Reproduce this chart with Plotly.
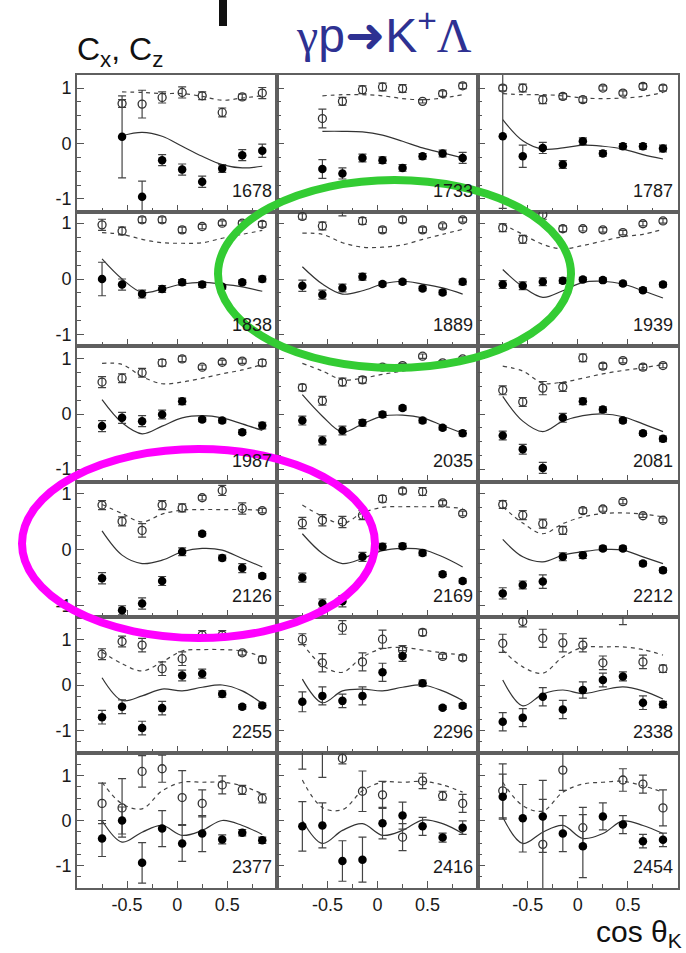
import plotly.graph_objects as go

# ---------------- data ----------------
ENERGIES = [1678, 1733, 1787, 1838, 1889, 1939, 1987, 2035, 2081,
            2126, 2169, 2212, 2255, 2296, 2338, 2377, 2416, 2454]
COS_BINS = [-0.75, -0.55, -0.35, -0.15, 0.05, 0.25, 0.45, 0.65, 0.85]
X_TICK_LABELS = ["-0.5", "0", "0.5"]
Y_TICK_LABELS = ["-1", "0", "1"]

N = None
# C_x (filled circles)
CX = [
    [N, 0.12, -0.96, -0.30, -0.47, -0.69, -0.45, -0.21, -0.13],
    [N, -0.46, -0.54, -0.26, -0.30, -0.44, -0.23, -0.18, -0.26],
    [0.13, -0.23, -0.08, -0.38, 0.04, -0.18, -0.05, -0.05, -0.09],
    [0.00, -0.10, -0.27, -0.18, -0.06, -0.10, -0.14, -0.06, 0.00],
    [-0.12, -0.28, -0.16, 0.04, -0.09, -0.05, -0.17, -0.24, -0.05],
    [-0.10, -0.12, -0.05, -0.03, -0.01, -0.02, -0.08, -0.20, -0.10],
    [-0.22, -0.07, -0.13, -0.01, 0.23, -0.10, -0.12, -0.33, -0.21],
    [-0.12, -0.48, -0.30, -0.16, -0.01, 0.11, -0.12, -0.25, -0.35],
    [-0.39, -0.64, -0.98, -0.07, 0.23, 0.08, -0.12, -0.35, -0.45],
    [-0.51, -1.08, -0.96, -0.56, -0.04, 0.28, -0.15, -0.33, -0.47],
    [-0.50, -0.96, -0.92, -0.13, 0.05, 0.06, -0.06, -0.44, -0.56],
    [-0.78, -0.63, -0.57, -0.13, -0.10, 0.02, 0.02, -0.25, -0.37],
    [-0.71, -0.48, -0.95, -0.51, 0.21, 0.25, -0.20, -0.48, -0.45],
    [-0.37, -0.24, -0.35, -0.24, 0.28, 0.64, 0.04, -0.50, -0.46],
    [-0.81, -0.72, -0.26, -0.54, -0.11, 0.11, 0.19, -0.39, -0.43],
    [-0.40, 0.00, -0.94, -0.18, -0.51, -0.29, -0.42, -0.27, -0.44],
    [-0.13, -0.11, -0.90, -0.87, -0.06, 0.11, -0.13, -0.38, -0.16],
    [0.53, 0.05, 0.09, -0.29, -0.57, 0.09, -0.09, -0.46, -0.43],
]
CX_ERR = [
    [N, 0.74, 0.28, 0.10, 0.10, 0.10, 0.07, 0.10, 0.12],
    [N, 0.17, 0.10, 0.07, 0.06, 0.06, 0.05, 0.06, 0.10],
    [1.30, 0.20, 0.10, 0.07, 0.06, 0.05, 0.05, 0.05, 0.06],
    [0.30, 0.10, 0.07, 0.06, 0.05, 0.05, 0.04, 0.04, 0.05],
    [0.10, 0.08, 0.07, 0.06, 0.04, 0.04, 0.04, 0.04, 0.05],
    [0.07, 0.07, 0.07, 0.05, 0.04, 0.04, 0.04, 0.04, 0.04],
    [0.10, 0.10, 0.10, 0.08, 0.06, 0.04, 0.04, 0.04, 0.06],
    [0.08, 0.08, 0.08, 0.06, 0.05, 0.04, 0.04, 0.04, 0.05],
    [0.08, 0.09, 0.10, 0.08, 0.06, 0.05, 0.04, 0.04, 0.05],
    [0.10, 0.08, 0.10, 0.08, 0.07, 0.04, 0.05, 0.08, 0.04],
    [0.08, 0.08, 0.10, 0.08, 0.06, 0.05, 0.05, 0.04, 0.04],
    [0.10, 0.07, 0.12, 0.07, 0.06, 0.04, 0.04, 0.04, 0.04],
    [0.15, 0.15, 0.15, 0.15, 0.12, 0.10, 0.07, 0.05, 0.05],
    [0.22, 0.20, 0.15, 0.20, 0.20, 0.12, 0.07, 0.04, 0.05],
    [0.20, 0.20, 0.20, 0.20, 0.18, 0.15, 0.10, 0.15, 0.07],
    [0.40, 0.30, 0.45, 0.40, 0.40, 0.40, 0.10, 0.07, 0.07],
    [0.55, 0.50, 0.45, 0.50, 0.35, 0.30, 0.20, 0.10, 0.15],
    [0.50, 0.75, 0.80, 0.40, 0.70, 0.30, 0.20, 0.15, 0.15],
]
# C_z (open circles)
CZ = [
    [N, 0.72, 0.71, 0.83, 0.92, 0.86, 0.56, 0.84, 0.91],
    [N, 0.45, 0.76, 0.97, 1.02, 0.99, 0.76, 0.90, 1.04],
    [1.00, 1.00, 0.79, 0.85, 0.79, 1.00, 0.91, 1.03, 1.00],
    [0.97, 0.86, 1.06, 1.06, 0.88, 0.94, 1.00, 1.00, 0.98],
    [1.12, 0.95, 1.28, 1.04, 0.88, 1.06, 0.88, 0.95, 1.06],
    [0.92, 0.71, 1.15, 0.90, 0.90, 0.88, 0.83, 0.99, 1.04],
    [0.58, 0.65, 0.75, 0.93, 1.00, 0.85, 0.94, 0.96, 0.93],
    [0.48, 0.24, 0.58, 0.62, 0.85, 0.88, 1.05, 0.93, 1.00],
    [0.43, 0.22, 0.47, 0.49, 1.02, 0.87, 0.97, 0.85, 0.88],
    [0.79, 0.50, 0.34, 0.79, 0.74, 0.92, 1.05, 0.73, 0.69],
    [0.47, 0.52, 0.49, 0.61, 0.90, 1.04, 1.03, 0.83, 0.64],
    [0.80, 0.61, 0.46, 0.34, 0.69, 0.72, 0.85, 0.60, 0.52],
    [0.68, 0.96, 0.88, 0.36, 0.58, 1.10, 1.10, 0.71, 0.56],
    [1.01, 0.49, 1.27, 0.51, 1.01, 0.77, 1.16, 0.63, 0.60],
    [0.92, 1.40, 1.03, 0.93, 0.88, 0.49, 1.70, 0.51, 0.36],
    [0.38, 0.28, 1.09, 1.15, 0.51, 0.38, 0.79, 0.68, 0.49],
    [1.60, 1.60, 1.38, 0.65, 0.57, -0.37, 0.88, 0.55, 0.38],
    [0.66, N, -0.53, 1.12, -0.16, N, 0.90, 0.81, 0.28],
]
CZ_ERR = [
    [N, 0.07, 0.25, 0.10, 0.10, 0.07, 0.08, 0.05, 0.10],
    [N, 0.17, 0.07, 0.07, 0.07, 0.07, 0.03, 0.05, 0.05],
    [0.05, 0.07, 0.07, 0.05, 0.05, 0.04, 0.04, 0.05, 0.05],
    [0.10, 0.07, 0.05, 0.05, 0.05, 0.04, 0.04, 0.04, 0.05],
    [0.05, 0.07, 0.15, 0.06, 0.05, 0.05, 0.05, 0.04, 0.04],
    [0.07, 0.07, 0.08, 0.05, 0.04, 0.04, 0.04, 0.04, 0.04],
    [0.10, 0.08, 0.08, 0.06, 0.05, 0.04, 0.04, 0.04, 0.06],
    [0.06, 0.08, 0.07, 0.06, 0.05, 0.04, 0.04, 0.04, 0.04],
    [0.08, 0.08, 0.12, 0.08, 0.07, 0.05, 0.04, 0.05, 0.04],
    [0.08, 0.08, 0.12, 0.08, 0.07, 0.04, 0.09, 0.10, 0.04],
    [0.10, 0.10, 0.10, 0.08, 0.06, 0.05, 0.07, 0.04, 0.04],
    [0.07, 0.08, 0.08, 0.07, 0.05, 0.04, 0.04, 0.03, 0.04],
    [0.12, 0.12, 0.15, 0.15, 0.15, 0.10, 0.10, 0.05, 0.07],
    [0.12, 0.20, 0.15, 0.20, 0.20, 0.10, 0.07, 0.05, 0.06],
    [0.20, 0.12, 0.20, 0.20, 0.15, 0.15, 0.37, 0.15, 0.08],
    [0.45, 0.65, 0.35, 0.30, 0.60, 0.30, 0.20, 0.10, 0.10],
    [0.46, 0.64, 0.12, 0.45, 0.30, 0.30, 0.17, 0.10, 0.20],
    [0.60, N, 1.00, 0.45, 0.45, N, 0.25, 0.20, 0.40],
]
# model curves: solid (C_x) and dashed (C_z)
MODEL_CX = [
    [N, 0.14, 0.20, 0.13, -0.05, -0.23, -0.38, -0.44, -0.41],
    [N, 0.22, 0.22, 0.21, 0.15, 0.04, -0.08, -0.17, -0.26],
    [0.43, 0.05, -0.10, -0.08, -0.03, -0.05, -0.10, -0.20, -0.28],
    [0.36, 0.00, -0.24, -0.18, -0.09, -0.06, -0.09, -0.14, -0.22],
    [0.22, -0.09, -0.27, -0.21, -0.09, -0.04, -0.09, -0.16, -0.27],
    [0.17, -0.14, -0.33, -0.21, -0.06, -0.04, -0.09, -0.21, -0.34],
    [0.26, -0.16, -0.36, -0.22, -0.07, -0.03, -0.07, -0.18, -0.30],
    [0.35, -0.04, -0.33, -0.18, -0.04, -0.02, -0.07, -0.21, -0.35],
    [0.32, -0.13, -0.32, -0.13, -0.03, 0.00, -0.05, -0.18, -0.32],
    [0.33, -0.10, -0.25, -0.19, -0.04, 0.02, -0.01, -0.16, -0.31],
    [0.28, -0.07, -0.25, -0.16, -0.02, 0.02, 0.00, -0.13, -0.31],
    [0.18, -0.13, -0.22, -0.10, -0.04, 0.00, -0.01, -0.13, -0.25],
    [0.16, -0.34, -0.24, -0.09, -0.13, -0.05, 0.00, -0.13, -0.41],
    [0.13, -0.39, -0.13, -0.09, -0.13, -0.05, 0.00, -0.13, -0.34],
    [0.11, -0.46, -0.20, -0.11, -0.19, -0.11, -0.04, -0.13, -0.31],
    [0.00, -0.48, -0.26, -0.11, -0.33, -0.22, 0.00, -0.11, -0.31],
    [0.00, -0.51, -0.22, -0.07, -0.33, -0.22, 0.01, -0.07, -0.29],
    [0.07, -0.51, -0.26, -0.11, -0.40, -0.29, -0.01, -0.11, -0.29],
]
MODEL_CZ = [
    [N, 0.93, 0.92, 0.90, 0.90, 0.85, 0.78, 0.82, 0.86],
    [N, 0.86, 0.88, 0.88, 0.86, 0.81, 0.79, 0.82, 0.88],
    [0.90, 0.88, 0.88, 0.86, 0.82, 0.81, 0.82, 0.85, 0.92],
    [0.83, 0.80, 0.71, 0.65, 0.64, 0.65, 0.73, 0.80, 0.87],
    [0.82, 0.80, 0.65, 0.57, 0.57, 0.61, 0.71, 0.80, 0.89],
    [0.98, 0.80, 0.62, 0.54, 0.60, 0.68, 0.76, 0.80, 0.89],
    [0.92, 0.90, 0.68, 0.55, 0.58, 0.65, 0.73, 0.80, 0.90],
    [0.92, 0.78, 0.62, 0.65, 0.72, 0.78, 0.84, 0.90, 0.96],
    [0.87, 0.78, 0.56, 0.58, 0.65, 0.73, 0.79, 0.84, 0.90],
    [0.80, 0.64, 0.49, 0.63, 0.70, 0.71, 0.71, 0.71, 0.70],
    [0.79, 0.59, 0.46, 0.65, 0.75, 0.76, 0.76, 0.76, 0.73],
    [0.76, 0.47, 0.28, 0.46, 0.58, 0.64, 0.65, 0.63, 0.58],
    [0.73, 0.47, 0.31, 0.51, 0.75, 0.78, 0.78, 0.75, 0.62],
    [0.92, 0.43, 0.28, 0.62, 0.80, 0.83, 0.77, 0.71, 0.66],
    [0.77, 0.40, 0.26, 0.62, 0.83, 0.84, 0.84, 0.78, 0.66],
    [0.85, 0.37, 0.26, 0.66, 0.85, 0.85, 0.85, 0.77, 0.59],
    [0.90, 0.29, 0.24, 0.66, 0.85, 0.85, 0.87, 0.79, 0.63],
    [0.85, 0.33, 0.21, 0.63, 0.81, 0.85, 0.87, 0.77, 0.63],
]

# ---------------- layout geometry (pixels) ----------------
W, H = 686, 953
COL_EDGES = [77, 277.3, 477.7, 678]
ROW_EDGES = [75, 212, 346, 482, 617, 753, 888]
ROW_YMAX = [1.235, 1.2, 1.235, 1.2, 1.5, 1.5]

FONT = "Liberation Sans, Arial, Helvetica, sans-serif"
INK = "#1a1a1a"
FRAME = "#5f5f5f"


def px(x):
    return x / W


def py(y):
    return 1 - y / H


fig = go.Figure()
annotations = []
layout_axes = {}

for i, e in enumerate(ENERGIES):
    r, c = divmod(i, 3)
    n = i + 1
    xa = "x" if n == 1 else f"x{n}"
    ya = "y" if n == 1 else f"y{n}"
    xkey = "xaxis" if n == 1 else f"xaxis{n}"
    ykey = "yaxis" if n == 1 else f"yaxis{n}"

    # curves
    fig.add_trace(go.Scatter(
        x=COS_BINS, y=MODEL_CZ[i], mode="lines", xaxis=xa, yaxis=ya,
        line=dict(color="#444444", width=1.2, dash="4px,4px", shape="spline"),
        connectgaps=False, showlegend=False, hoverinfo="skip"))
    fig.add_trace(go.Scatter(
        x=COS_BINS, y=MODEL_CX[i], mode="lines", xaxis=xa, yaxis=ya,
        line=dict(color="#333333", width=1.2, shape="spline"),
        connectgaps=False, showlegend=False, hoverinfo="skip"))
    # open circles (C_z)
    fig.add_trace(go.Scatter(
        x=COS_BINS, y=CZ[i], mode="markers", xaxis=xa, yaxis=ya,
        marker=dict(symbol="circle-open", size=8, color="#333333",
                    line=dict(width=1.3, color="#333333")),
        error_y=dict(type="data", array=CZ_ERR[i], visible=True,
                     color="#444444", thickness=1.2, width=4),
        showlegend=False))
    # filled circles (C_x)
    fig.add_trace(go.Scatter(
        x=COS_BINS, y=CX[i], mode="markers", xaxis=xa, yaxis=ya,
        marker=dict(symbol="circle", size=8.5, color="#000000"),
        error_y=dict(type="data", array=CX_ERR[i], visible=True,
                     color="#444444", thickness=1.2, width=4),
        showlegend=False))

    ymax = ROW_YMAX[r]
    layout_axes[xkey] = dict(
        domain=[px(COL_EDGES[c]), px(COL_EDGES[c + 1])],
        anchor=ya, range=[-1, 1],
        tickmode="array", tickvals=[-0.5, 0, 0.5], ticktext=X_TICK_LABELS,
        showticklabels=(r == 5), ticks="inside", ticklen=7, tickwidth=1.2,
        tickcolor="#555555",
        minor=dict(tickmode="array", tickvals=[-0.75, -0.25, 0.25, 0.75],
                   ticks="inside", ticklen=4, tickwidth=1.1,
                   tickcolor="#555555", showgrid=False),
        showline=True, mirror=True, linecolor=FRAME, linewidth=1.7,
        showgrid=False, zeroline=False, fixedrange=True,
        tickfont=dict(family=FONT, size=18, color=INK))
    minor_y = [v / 4 for v in range(-int(ymax * 4), int(ymax * 4) + 1)
               if v % 4 != 0]
    layout_axes[ykey] = dict(
        domain=[py(ROW_EDGES[r + 1]), py(ROW_EDGES[r])],
        anchor=xa, range=[-ymax, ymax],
        tickmode="array", tickvals=[-1, 0, 1], ticktext=Y_TICK_LABELS,
        showticklabels=(c == 0), ticks="inside", ticklen=7, tickwidth=1.2,
        tickcolor="#555555",
        minor=dict(tickmode="array", tickvals=minor_y,
                   ticks="inside", ticklen=4, tickwidth=1.1,
                   tickcolor="#555555", showgrid=False),
        showline=True, mirror=True, linecolor=FRAME, linewidth=1.7,
        showgrid=False, zeroline=False, fixedrange=True,
        tickfont=dict(family=FONT, size=18, color=INK))

    annotations.append(dict(
        text=str(e), xref="paper", yref="paper",
        x=px(COL_EDGES[c + 1] - 3), y=py(ROW_EDGES[r + 1] - 9),
        xanchor="right", yanchor="bottom", showarrow=False,
        font=dict(family=FONT, size=18, color=INK)))

# titles / labels
TITLE = ("<span style='font-family:Liberation Serif'>γ</span>p"
         "<span style='font-family:DejaVu Sans'>➜</span>K<sup>+</sup>"
         "<span style='font-family:Liberation Serif'>Λ</span>")
annotations.append(dict(
    text=TITLE, xref="paper", yref="paper",
    x=px(384), y=py(33), xanchor="center", yanchor="middle",
    showarrow=False, font=dict(family=FONT, size=48, color="#2e3192")))
annotations.append(dict(
    text="C<sub>x</sub>, C<sub>z</sub>", xref="paper", yref="paper",
    x=px(75), y=py(52), xanchor="left", yanchor="middle",
    showarrow=False, font=dict(family=FONT, size=32, color="#111111")))
annotations.append(dict(
    text="cos θ<sub>K</sub>", xref="paper", yref="paper",
    x=px(684), y=py(933), xanchor="right", yanchor="middle",
    showarrow=False, font=dict(family=FONT, size=30, color="#111111")))

shapes = [
    # black bar at the top edge
    dict(type="rect", xref="paper", yref="paper",
         x0=px(219), x1=px(227), y0=py(26), y1=py(0),
         fillcolor="#111111", line=dict(width=0)),
    # green ellipse
    dict(type="circle", xref="paper", yref="paper",
         x0=px(218), x1=px(571), y0=py(368), y1=py(180),
         line=dict(color="#33cc33", width=8)),
    # magenta ellipse
    dict(type="circle", xref="paper", yref="paper",
         x0=px(22), x1=px(375), y0=py(638), y1=py(449),
         line=dict(color="#ff00ff", width=8)),
]

fig.update_layout(
    width=W, height=H, margin=dict(l=0, r=0, t=0, b=0),
    paper_bgcolor="white", plot_bgcolor="white",
    showlegend=False, annotations=annotations, shapes=shapes,
    **layout_axes)

fig.write_html("out.html")
